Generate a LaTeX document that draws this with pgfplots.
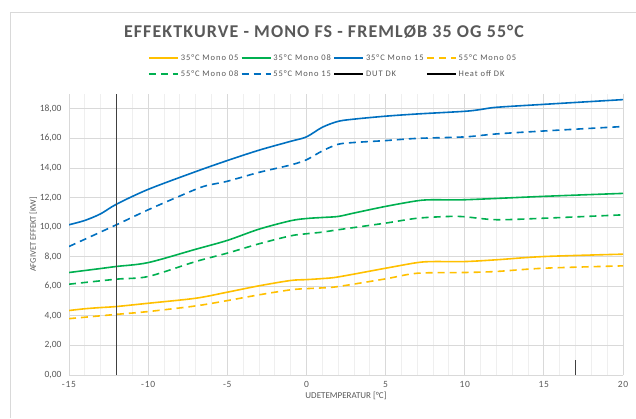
\documentclass[border=0pt]{standalone}
\usepackage{pgfplots}
\pgfplotsset{compat=1.18}
\usepackage{fontspec}
\setmainfont{Carlito}
\newfontfamily\titlefont[LetterSpace=6]{Carlito}
\newfontfamily\tickfont[LetterSpace=8]{Carlito}
\newfontfamily\legfont[LetterSpace=11]{Carlito}
\definecolor{cyel}{HTML}{FFC000}
\definecolor{cgrn}{HTML}{00B050}
\definecolor{cblu}{HTML}{0070C0}
\definecolor{txt}{HTML}{595959}
\definecolor{gmaj}{HTML}{D9D9D9}
\definecolor{gmin}{HTML}{EFEFEF}
\definecolor{dk}{HTML}{404040}
\newcommand{\lt}[1]{\makebox[58pt][l]{\strut #1}}
\begin{document}
\begin{tikzpicture}[x=1pt,y=1pt]
\useasboundingbox (0,0) rectangle (636,418);
\draw[gmaj,line width=0.8pt] (10,0) -- (10,406) -- (636,406);
\node[font=\titlefont\bfseries\fontsize{18}{20}\selectfont, text=txt] at (324,386) {EFFEKTKURVE - MONO FS - FREMLØB 35 OG 55°C};
\begin{axis}[
  at={(69pt,43pt)}, anchor=south west,
  scale only axis, width=554pt, height=281pt,
  xmin=-15, xmax=20, ymin=0, ymax=19,
  xtick={-15,-10,...,20},
  ytick={0,2,...,18},
  minor x tick num=4,
  minor y tick num=0,
  grid=both,
  major grid style={gmaj, line width=0.8pt},
  minor grid style={gmin, line width=0.8pt},
  major tick length=0pt, minor tick length=0pt,
  axis x line*=bottom, axis y line*=left,
  x axis line style={gmaj, line width=0.8pt, -},
  y axis line style={draw=none},
  /pgf/number format/assume math mode=true,
  xticklabel style={font=\tickfont\fontsize{9.5}{10}\selectfont, text=txt, yshift=-3pt},
  yticklabel style={font=\fontsize{9.5}{10}\selectfont, text=txt, xshift=-4pt},
  yticklabel={\pgfmathprintnumber[fixed,fixed zerofill,precision=2,use comma]{\tick}},
  xticklabel={\pgfmathprintnumber{\tick}},
  xlabel={UDETEMPERATUR [°C]},
  ylabel={AFGIVET EFFEKT [KW]},
  xlabel style={font=\fontsize{9}{10}\selectfont, text=txt, yshift=3pt},
  ylabel style={font=\fontsize{8.5}{9}\selectfont, text=txt, yshift=-4pt},
  legend columns=4,
  legend cell align=left,
  legend style={at={(0.1426,1.152)}, anchor=north west, draw=none, fill=none,
    font=\legfont\fontsize{8.5}{10}\selectfont, text=txt, inner sep=0pt,
    /tikz/every even column/.append style={column sep=0pt},
    row sep=4pt},
  legend image code/.code={\draw[#1] (0pt,0pt) -- (29pt,0pt);},
  every axis plot/.append style={smooth, tension=0.5},
]
\addplot[cyel, line width=1.6pt] coordinates {
(-15,4.36) (-14,4.48) (-13,4.56) (-12,4.63) (-10,4.85) (-7,5.19) (-5,5.6) (-3,6.03) (-1,6.39) (0,6.45) (1,6.52) (2,6.63) (5,7.22) (7,7.6) (8,7.67) (10,7.67) (12,7.79) (15,8.01) (20,8.17)};
\addlegendentry{\lt{35°C Mono 05}}
\addplot[cgrn, line width=1.6pt] coordinates {
(-15,6.93) (-13,7.2) (-12,7.34) (-10,7.6) (-7,8.5) (-5,9.1) (-3,9.86) (-1,10.43) (0,10.58) (1,10.65) (2,10.72) (3,10.95) (5,11.4) (7,11.78) (8,11.85) (10,11.85) (15,12.08) (20,12.28)};
\addlegendentry{\lt{35°C Mono 08}}
\addplot[cblu, line width=1.6pt] coordinates {
(-15,10.16) (-14,10.45) (-13,10.9) (-12,11.55) (-10,12.55) (-7,13.75) (-5,14.5) (-3,15.2) (-1,15.8) (0,16.1) (1,16.75) (2,17.15) (3,17.3) (5,17.5) (7,17.65) (10,17.83) (11,17.95) (12,18.1) (15,18.3) (20,18.62)};
\addlegendentry{\lt{35°C Mono 15}}
\addplot[cyel, line width=1.6pt, dash pattern=on 7pt off 5pt] coordinates {
(-15,3.81) (-12,4.1) (-10,4.29) (-7,4.67) (-5,5.03) (-3,5.42) (-1,5.76) (0,5.84) (1,5.89) (2,5.98) (5,6.5) (7,6.88) (10,6.93) (12,7.0) (15,7.22) (20,7.38)};
\addlegendentry{\lt{55°C Mono 05}}
\addplot[cgrn, line width=1.6pt, dash pattern=on 7pt off 5pt] coordinates {
(-15,6.14) (-12,6.48) (-10,6.66) (-7,7.67) (-5,8.24) (-3,8.87) (-1,9.41) (0,9.55) (1,9.66) (2,9.82) (5,10.27) (7,10.6) (9,10.72) (10,10.7) (12,10.5) (15,10.6) (20,10.83)};
\addlegendentry{\lt{55°C Mono 08}}
\addplot[cblu, line width=1.6pt, dash pattern=on 7pt off 5pt] coordinates {
(-15,8.69) (-12,10.16) (-10,11.17) (-8,12.1) (-6.5,12.75) (-5,13.1) (-3,13.7) (-1,14.2) (0,14.55) (1,15.15) (2,15.6) (3,15.72) (5,15.85) (7,16.0) (10,16.1) (12,16.3) (15,16.5) (20,16.8)};
\addlegendentry{\lt{55°C Mono 15}}
\addplot[dk, line width=0.8pt, sharp plot,
  legend image code/.code={\draw[black, line width=1.6pt] (0pt,0pt) -- (29pt,0pt);}] coordinates {(-12,0) (-12,19)};
\addlegendentry{\lt{DUT DK}}
\addplot[dk, line width=0.8pt, sharp plot,
  legend image code/.code={\draw[black, line width=1.6pt] (0pt,0pt) -- (29pt,0pt);}] coordinates {(17,0) (17,1)};
\addlegendentry{\lt{Heat off DK}}
\end{axis}
\end{tikzpicture}
\end{document}
